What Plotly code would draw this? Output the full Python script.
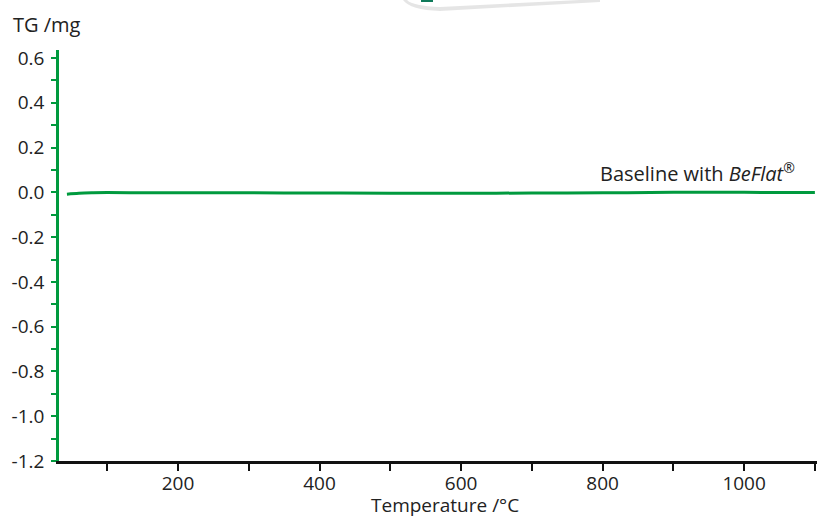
import plotly.graph_objects as go

# Data
temperature_c = [43, 60, 80, 100, 150, 200, 300, 400, 500, 600, 700, 800, 900, 950, 1000, 1050, 1100]
tg_mg = [-0.008, -0.004, -0.002, -0.001, -0.002, -0.002, -0.002, -0.003, -0.004, -0.004, -0.003,
         -0.002, 0.000, 0.001, 0.000, -0.001, -0.001]

y_tickvals = [0.6, 0.4, 0.2, 0.0, -0.2, -0.4, -0.6, -0.8, -1.0, -1.2]
y_ticktext = ["0.6", "0.4", "0.2", "0.0", "-0.2", "-0.4", "-0.6", "-0.8", "-1.0", "-1.2"]
x_tickvals = [200, 400, 600, 800, 1000]
x_ticktext = ["200", "400", "600", "800", "1000"]

GREEN = "#009a3e"
FONT = "Open Sans"
FS = 20
TFS = 19
W, H = 817, 516
L, R, T, B = 59, 0, 50, 55

fig = go.Figure()
fig.add_trace(go.Scatter(x=temperature_c, y=tg_mg, mode="lines",
                         line=dict(color=GREEN, width=3, shape="spline"),
                         showlegend=False, hoverinfo="skip"))

fig.update_layout(
    width=W, height=H,
    margin=dict(l=L, r=R, t=T, b=B),
    paper_bgcolor="white", plot_bgcolor="white",
    font=dict(family=FONT, size=FS, color="#222222"),
    xaxis=dict(range=[31.8, 1103], showgrid=False, zeroline=False,
               showline=True, linecolor="#111111", linewidth=2.5,
               ticks="outside", ticklen=7, tickwidth=2, tickcolor="#111111",
               tickvals=x_tickvals, ticktext=x_ticktext, ticklabelstandoff=-4,
               tickfont=dict(size=TFS),
               minor=dict(dtick=100, tick0=0, ticks="outside", ticklen=7, tickwidth=2, tickcolor="#111111")),
    yaxis=dict(range=[-1.2, 0.636], showgrid=False, zeroline=False,
               showline=True, linecolor=GREEN, linewidth=2.5,
               ticks="outside", ticklen=5, tickwidth=2, tickcolor=GREEN,
               tickvals=y_tickvals, ticktext=y_ticktext, ticklabelstandoff=3,
               tickfont=dict(size=TFS),
               minor=dict(dtick=0.1, tick0=0, ticks="outside", ticklen=5, tickwidth=2, tickcolor=GREEN)),
)

def px(xp):
    return (xp - L) / (W - L - R)

def py(yp):
    return 1 + (T - yp) / (H - T - B)

fig.add_annotation(text="TG /mg", xref="paper", yref="paper",
                   x=px(11), y=py(24),
                   xanchor="left", yanchor="middle", showarrow=False,
                   font=dict(size=FS, color="#222222"))

fig.add_annotation(text="Temperature /°C", xref="paper", yref="paper",
                   x=px(445), y=py(505),
                   xanchor="center", yanchor="middle", showarrow=False,
                   font=dict(size=TFS, color="#222222"))

fig.add_annotation(text="Baseline with <i>BeFlat</i><sup>®</sup>", x=1075, y=0.09,
                   xanchor="right", yanchor="middle", showarrow=False,
                   font=dict(size=FS, color="#222222"))

# decorative cut-off card edge at the top
path = (f"M {px(403)},{py(0)} Q {px(410)},{py(10)} {px(440)},{py(11)} "
        f"L {px(600)},{py(2)} L {px(600)},{py(-2)} L {px(403)},{py(-2)} Z")
fig.add_shape(type="path", path=path, xref="paper", yref="paper",
              fillcolor="rgba(0,0,0,0.10)", line=dict(width=0), layer="below")
path2 = (f"M {px(407)},{py(0)} Q {px(413)},{py(6)} {px(440)},{py(7)} "
         f"L {px(600)},{py(-1)} L {px(600)},{py(-3)} L {px(407)},{py(-3)} Z")
fig.add_shape(type="path", path=path2, xref="paper", yref="paper",
              fillcolor="white", line=dict(width=0), layer="below")
fig.add_shape(type="rect", xref="paper", yref="paper",
              x0=px(421), x1=px(433), y0=py(2), y1=py(-2),
              fillcolor="#0f7a5a", line=dict(width=0), layer="below")

fig.write_html("out.html", config={"displayModeBar": False},
               post_script="document.body.style.margin='0';")
